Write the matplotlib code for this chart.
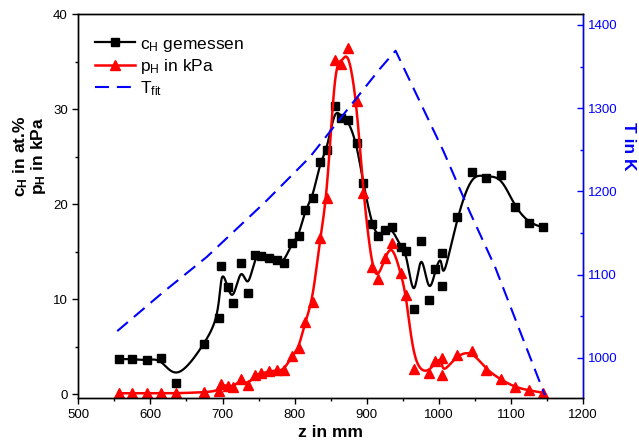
import numpy as np
import matplotlib
matplotlib.use("Agg")
import matplotlib.pyplot as plt

plt.rcParams['font.family'] = ['Liberation Sans', 'DejaVu Sans']
plt.rcParams['mathtext.fontset'] = 'custom'
plt.rcParams['mathtext.rm'] = 'Liberation Sans'
plt.rcParams['mathtext.it'] = 'Liberation Sans:italic'
plt.rcParams['mathtext.bf'] = 'Liberation Sans:bold'

# measured hydrogen content, z in mm
z_c = [556, 575, 595, 615, 636, 675, 695, 698, 707, 715, 726, 735, 745, 754,
       765, 775, 785, 796, 806, 814, 825, 835, 845, 856, 865, 874, 886, 895,
       907, 915, 925, 935, 947, 955, 966, 975, 986, 995, 1004, 1005, 1025,
       1046, 1065, 1086, 1105, 1125, 1145]
c_h = [3.7, 3.7, 3.55, 3.85, 1.2, 5.3, 8.05, 13.5, 11.25, 9.65, 13.85, 10.7,
       14.65, 14.55, 14.35, 14.15, 13.8, 15.95, 16.6, 19.4, 20.6, 24.4, 25.7,
       30.3, 29.05, 28.9, 26.4, 22.25, 17.9, 16.6, 17.25, 17.55, 15.45, 15.1,
       8.95, 16.15, 9.95, 13.15, 14.85, 11.4, 18.6, 23.35, 22.8, 23.05, 19.7,
       18.0, 17.55]

# hydrogen partial pressure in kPa
z_p = [556, 575, 595, 615, 636, 675, 695, 698, 707, 715, 726, 735, 745, 754,
       765, 775, 785, 796, 806, 814, 825, 835, 845, 856, 865, 874, 886, 895,
       907, 915, 925, 935, 947, 955, 966, 986, 995, 1004, 1005, 1025, 1046,
       1065, 1086, 1105, 1125, 1145]
p_h = [0.1, 0.1, 0.1, 0.1, 0.1, 0.2, 0.35, 1.05, 0.85, 0.8, 1.55, 0.95, 2.05,
       2.2, 2.4, 2.5, 2.5, 4.0, 4.85, 7.55, 9.75, 16.4, 20.6, 35.2, 34.8, 36.4,
       30.9, 21.2, 13.4, 12.1, 14.3, 15.9, 12.75, 10.4, 2.65, 2.25, 3.45, 3.8,
       2.05, 4.15, 4.6, 2.6, 1.55, 0.75, 0.4, 0.15]

# fitted temperature profile
z_t = [554, 618, 678, 759, 821, 872, 918, 940, 1006, 1043, 1078, 1112, 1147]
t_fit = [1032, 1079, 1121, 1187, 1241, 1297, 1347, 1369, 1249, 1175, 1109,
         1033, 955]


def bspline(x, y, nseg=25):
    # uniform cubic B-spline with the points as control points
    px = np.concatenate([[x[0]] * 2, x, [x[-1]] * 2]).astype(float)
    py = np.concatenate([[y[0]] * 2, y, [y[-1]] * 2]).astype(float)
    t = np.linspace(0, 1, nseg)
    b0 = (1 - t) ** 3 / 6
    b1 = (3 * t ** 3 - 6 * t ** 2 + 4) / 6
    b2 = (-3 * t ** 3 + 3 * t ** 2 + 3 * t + 1) / 6
    b3 = t ** 3 / 6
    xs, ys = [], []
    for i in range(len(px) - 3):
        xs.append(b0 * px[i] + b1 * px[i + 1] + b2 * px[i + 2] + b3 * px[i + 3])
        ys.append(b0 * py[i] + b1 * py[i + 1] + b2 * py[i + 2] + b3 * py[i + 3])
    return np.concatenate(xs), np.concatenate(ys)


fig = plt.figure(figsize=(6.39, 4.48), dpi=100)
ax = fig.add_axes([0.1225, 0.1105, 0.79, 0.858])
ax2 = ax.twinx()

blue = '#0000ff'
red = '#ff0000'

xs, ys = bspline(z_c, c_h)
ax.plot(xs, ys, color='black', lw=1.6)
ax.plot(z_c, c_h, ls='none', marker='s', ms=5.5, color='black')
xs, ys = bspline(z_p, p_h)
ax.plot(xs, ys, color=red, lw=1.8)
ax.plot(z_p, p_h, ls='none', marker='^', ms=7, color=red)
ax2.plot(z_t, t_fit, color=blue, lw=1.5, ls=(0, (6.7, 3.8)))

# legend proxies
h1, = ax.plot([], [], color='black', lw=1.6, marker='s', ms=5.5)
h2, = ax.plot([], [], color=red, lw=1.8, marker='^', ms=7)
h3, = ax.plot([], [], color=blue, lw=1.5, ls=(0, (6.7, 3.8)))
ax.legend([h1, h2, h3],
          ['c$_\\mathrm{H}$ gemessen', 'p$_\\mathrm{H}$ in kPa',
           'T$_\\mathrm{fit}$'],
          loc='upper left', bbox_to_anchor=(0.033, 0.942), frameon=False,
          fontsize=12.5, numpoints=1, handlelength=2.3, handletextpad=0.3,
          labelspacing=0.2, borderpad=0, borderaxespad=0)

ax.set_xlim(500, 1200)
ax.set_ylim(-0.45, 40)
ax2.set_ylim(951, 1413)

ax.set_xticks(np.arange(500, 1201, 100))
ax.set_xticks(np.arange(550, 1200, 100), minor=True)
ax.set_yticks(np.arange(0, 41, 10))
ax.set_yticks(np.arange(5, 40, 10), minor=True)
ax2.set_yticks(np.arange(1000, 1401, 100))
ax2.set_yticks(np.arange(1050, 1400, 100), minor=True)

ax.tick_params(axis='both', which='major', direction='out', length=4,
               width=1, labelsize=9.5)
ax.tick_params(axis='both', which='minor', direction='out', length=2.5,
               width=1)
ax2.tick_params(axis='y', which='major', direction='in', length=4, width=1,
                colors=blue, labelsize=9.5)
ax2.tick_params(axis='y', which='minor', direction='in', length=2.5,
                width=1, colors=blue)

for s in ax.spines.values():
    s.set_linewidth(1)
for s in ax2.spines.values():
    s.set_linewidth(1)
ax2.spines['right'].set_color(blue)

ax.set_xlabel('z in mm', fontsize=12.5, fontweight='bold', labelpad=3)
ax.set_ylabel('c$_\\mathbf{H}$ in at.%\np$_\\mathbf{H}$ in kPa',
              fontsize=12.5, fontweight='bold', linespacing=0.95,
              ha='center', va='center')
ax.yaxis.set_label_coords(-0.096, 0.63)
ax2.set_ylabel('T in K', fontsize=12.5, fontweight='bold', color=blue,
               rotation=270, ha='center', va='center')
ax2.yaxis.set_label_coords(1.089, 0.655)

fig.savefig('out.png', dpi=100)
